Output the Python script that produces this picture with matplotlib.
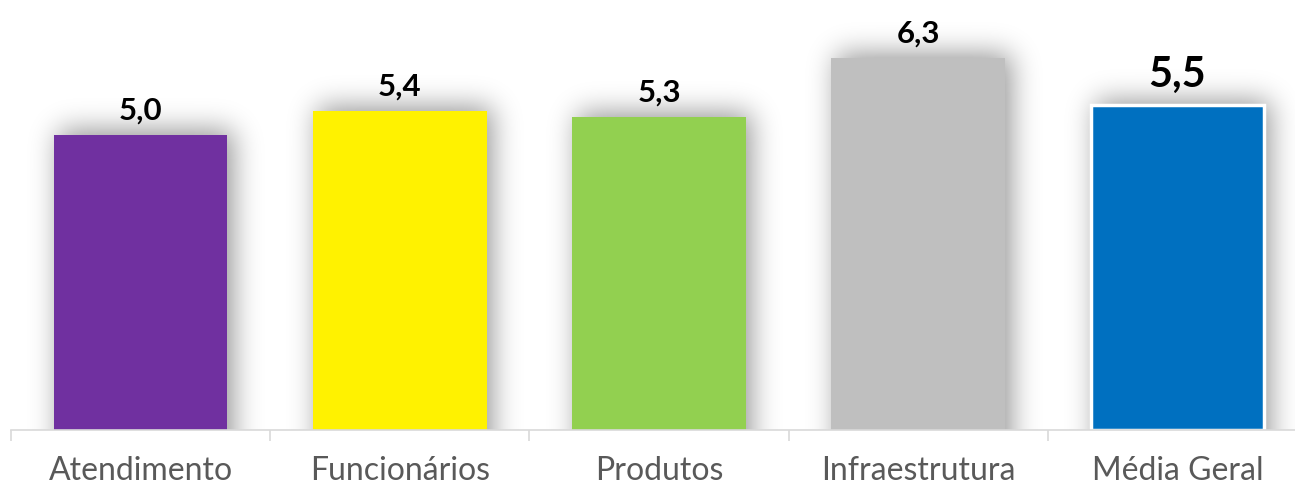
import numpy as np
import matplotlib
matplotlib.use("Agg")
import matplotlib.pyplot as plt

categories = ["Atendimento", "Funcionários", "Produtos", "Infraestrutura", "Média Geral"]
values = [5.0, 5.4, 5.3, 6.3, 5.5]
value_labels = ["5,0", "5,4", "5,3", "6,3", "5,5"]
colors = ["#7030A0", "#FFF200", "#92D050", "#BFBFBF", "#0070C0"]

W, H, DPI = 1295, 485, 100
fig = plt.figure(figsize=(W / DPI, H / DPI), dpi=DPI)
fig.patch.set_facecolor("white")

ax_left_px, ax_bottom_px, ax_top_px = 11, 54, 485
cat_px = 259.2
ax = fig.add_axes([ax_left_px / W, ax_bottom_px / H,
                   len(categories) * cat_px / W, (ax_top_px - ax_bottom_px) / H])
ymax = 7.3
ax.set_xlim(-0.5, len(categories) - 0.5)
ax.set_ylim(0, ymax)

x = np.arange(len(categories))
bar_w = 0.67

# soft drop shadow behind the bars (rendered as a blurred mask)
nx = int(len(categories) * cat_px)
ny = ax_top_px - ax_bottom_px
mask = np.zeros((ny, nx))
px_per_x = cat_px
px_per_y = ny / ymax
off_x = 6
for xi, v in zip(x, values):
    x0 = int((xi - bar_w / 2 + 0.5) * px_per_x) + off_x
    x1 = int((xi + bar_w / 2 + 0.5) * px_per_x) + off_x
    ytop = int(ny - v * px_per_y) - 4
    mask[max(ytop, 0):, x0:x1] = 1.0

def blur1d(a, sigma, axis):
    r = int(3 * sigma)
    k = np.exp(-0.5 * (np.arange(-r, r + 1) / sigma) ** 2)
    k /= k.sum()
    return np.apply_along_axis(lambda m: np.convolve(np.pad(m, r, mode="edge"), k, mode="valid"), axis, a)

blurred = blur1d(blur1d(mask, 14, 1), 14, 0)
rgba = np.zeros((ny, nx, 4))
rgba[..., 3] = blurred * 0.42
ax.imshow(rgba, extent=(-0.5, len(categories) - 0.5, 0, ymax), aspect="auto",
          interpolation="bilinear", zorder=1)

edge = ["none"] * 4 + ["white"]
lw = [0] * 4 + [2.5]
bars = ax.bar(x, values, width=bar_w, color=colors, edgecolor=edge, linewidth=lw, zorder=2)

for i, (v, lab) in enumerate(zip(values, value_labels)):
    big = i == len(values) - 1
    ax.annotate(lab, (x[i], v), xytext=(0, 9 if big else 8), textcoords="offset points",
                ha="center", va="bottom", fontsize=30 if big else 22.5, fontweight="bold",
                family="Lato", color="black", zorder=3)

for s in ["top", "right", "left"]:
    ax.spines[s].set_visible(False)
ax.spines["bottom"].set_color("#D9D9D9")
ax.spines["bottom"].set_linewidth(1.2)
ax.set_yticks([])
ax.set_xticks(np.arange(len(categories) + 1) - 0.5)
ax.set_xticklabels([])
ax.tick_params(axis="x", which="major", length=8, width=1.2, color="#D9D9D9")
ax.set_xticks(x, minor=True)
ax.set_xticklabels(categories, minor=True, fontsize=23, family="Lato", color="#595959")
ax.tick_params(axis="x", which="minor", length=0, pad=18)

fig.savefig("out.png", dpi=DPI, facecolor="white")
